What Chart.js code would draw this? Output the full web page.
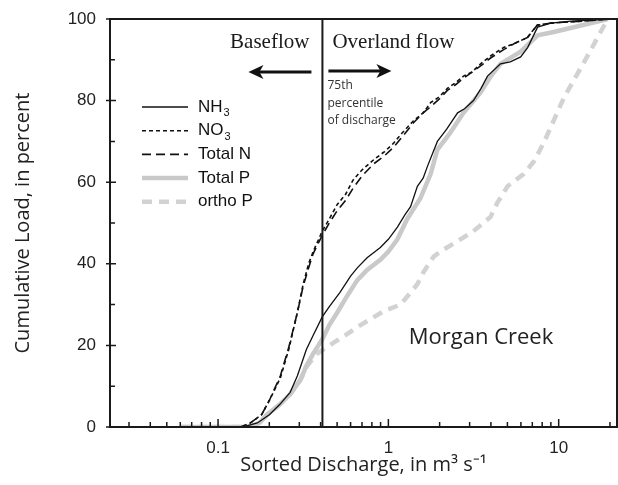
<!DOCTYPE html>
<html>
<head>
<meta charset="utf-8">
<script src="https://cdn.jsdelivr.net/npm/chart.js@4.4.0/dist/chart.umd.min.js"></script>
<style>
  body { margin: 0; background: #fff; }
  #wrap { width: 618px; height: 485px; }
</style>
</head>
<body>
<div id="wrap"><canvas id="loadChart"></canvas></div>
<script>
// Tên các chuỗi số liệu (chữ số cuối của NH3 / NO3 vẽ dạng chỉ số dưới)
const seriesNames = ['NH3', 'NO3', 'Total N', 'Total P', 'ortho P'];

// Mỗi điểm: [lưu lượng đã sắp xếp (m3/s), tải lượng tích lũy (%)]
const nh3 = [[0.14,0],[0.17,1],[0.2,3],[0.23,5.5],[0.265,8.5],[0.292,12.5],[0.33,19],[0.362,22.5],
  [0.409,27],[0.45,29.5],[0.52,33],[0.6,37],[0.657,39],[0.75,41.5],[0.897,44],[1.0,46],
  [1.13,49],[1.25,52],[1.35,54],[1.48,59],[1.6,61],[1.7,64],[1.94,70],[2.2,73],[2.55,77],[2.8,78],
  [3.16,80],[3.5,83],[3.82,86],[4.55,89],[5.2,89.5],[5.98,90.7],[6.57,93],[7.52,98],[9,99],[11.8,99.5],[20,100]];
const no3 = [[0.06,0],[0.135,0],[0.155,1],[0.18,3],[0.2,6.5],[0.232,12],[0.26,19],[0.292,28],[0.316,35],
  [0.34,40],[0.362,43],[0.409,48],[0.45,51],[0.5,54.5],[0.56,57],[0.62,60.5],[0.7,63],[0.82,65.5],
  [0.95,67.5],[1.07,69.5],[1.2,72],[1.4,75],[1.6,77],[1.77,79.5],[2.0,81],[2.22,83],[2.5,84.5],[2.76,86],
  [3.1,87],[3.48,89],[4.0,91],[4.75,93],[5.5,94],[6.57,95.5],[7.0,97],[7.5,98.5],[9,99],[11.8,99.3],[15,99.6],[20,100]];
const totalN = [[0.06,0],[0.135,0],[0.155,1],[0.18,3],[0.2,6.5],[0.232,12.5],[0.26,19.5],[0.292,28],[0.316,34.5],
  [0.34,39],[0.362,42.5],[0.409,47],[0.45,50],[0.5,53],[0.56,55.5],[0.62,58.5],[0.7,61.5],[0.82,64.5],
  [0.95,66.5],[1.07,68.5],[1.2,71],[1.4,74.5],[1.6,77],[1.77,78.5],[2.0,80.5],[2.22,82.5],[2.5,84],[2.76,85.5],
  [3.1,87],[3.48,88.5],[4.0,90.5],[4.75,92.5],[5.5,94],[6.57,95.5],[7.0,97],[7.5,98.5],[9,99],[11.8,99.3],[15,99.6],[20,100]];
const totalP = [[0.06,0],[0.154,0],[0.175,1],[0.194,3],[0.23,5.5],[0.265,8],[0.304,11.5],[0.33,15],[0.362,18],
  [0.409,21.5],[0.45,25],[0.5,28],[0.57,32],[0.657,36],[0.75,38.5],[0.897,41],[1.0,43],[1.13,46],[1.29,51],
  [1.54,56],[1.77,62],[1.94,68],[2.3,72],[2.76,77],[3.48,82],[4.0,86],[4.55,89],[5.98,92],[7.52,96],[9.36,96.8],[19.5,100]];
const orthoP = [[0.06,0],[0.154,0],[0.175,1],[0.194,3],[0.23,5.5],[0.265,8],[0.304,11.5],[0.334,15],[0.382,18],
  [0.475,20.6],[0.56,22.5],[0.657,24.5],[0.753,26],[0.95,28.5],[1.18,30],[1.48,35],[1.61,38],[1.84,41.7],
  [2.02,43],[2.65,46],[3.16,48],[3.98,51.5],[4.37,55],[5.01,59],[6.22,62],[7.13,65],[8.16,69.6],[10.7,80.6],[14.8,91],[19.4,100]];

// Trục và các mốc
const xTickValues = [0.1, 1, 10];
const xMinorValues = [0.03,0.04,0.05,0.06,0.07,0.08,0.09,0.2,0.3,0.4,0.5,0.6,0.7,0.8,0.9,2,3,4,5,6,7,8,9,20];
const yTickValues = [0, 20, 40, 60, 80, 100];
const yMinorValues = [10, 30, 50, 70, 90];
const q75 = 0.41; // phân vị 75 của lưu lượng

const toXY = arr => arr.map(p => ({ x: p[0], y: p[1] }));

const styles = [
  { color: '#111', width: 1.3, dash: [] },
  { color: '#111', width: 1.6, dash: [4, 3] },
  { color: '#111', width: 1.6, dash: [9, 5] },
  { color: '#c9c9c9', width: 4.5, dash: [] },
  { color: '#d2d2d2', width: 4.5, dash: [10, 7] }
];
const allSeries = [nh3, no3, totalN, totalP, orthoP];

const datasets = allSeries.map((s, i) => ({
  label: seriesNames[i],
  data: toXY(s),
  borderColor: styles[i].color,
  borderWidth: styles[i].width,
  borderDash: styles[i].dash,
  pointRadius: 0,
  tension: 0,
  fill: false
}));

// Vẽ chữ có chỉ số dưới (NH3 -> NH₃)
function drawLabel(ctx, text, x, y, size) {
  const m = text.match(/^([A-Z]+)(\d)$/);
  if (!m) { ctx.fillText(text, x, y); return; }
  ctx.fillText(m[1], x, y);
  const w = ctx.measureText(m[1]).width;
  const old = ctx.font;
  ctx.font = Math.round(size * 0.65) + 'px "Liberation Sans"';
  ctx.fillText(m[2], x + w + 1, y + size * 0.35);
  ctx.font = old;
}

function arrow(ctx, x1, x2, y) {
  const dir = Math.sign(x2 - x1);
  ctx.beginPath();
  ctx.moveTo(x1, y);
  ctx.lineTo(x2 - dir * 10, y);
  ctx.lineWidth = 3;
  ctx.stroke();
  ctx.beginPath();
  ctx.moveTo(x2, y);
  ctx.lineTo(x2 - dir * 15, y - 7);
  ctx.lineTo(x2 - dir * 11, y);
  ctx.lineTo(x2 - dir * 15, y + 7);
  ctx.closePath();
  ctx.fill();
}

const decorPlugin = {
  id: 'decor',
  afterDatasetsDraw(chart) {
    const ctx = chart.ctx;
    const a = chart.chartArea;
    const xs = chart.scales.x, ys = chart.scales.y;
    ctx.save();
    ctx.strokeStyle = '#1a1a1a';
    ctx.fillStyle = '#1a1a1a';

    // Khung
    ctx.lineWidth = 2;
    ctx.strokeRect(a.left, a.top, a.right - a.left, a.bottom - a.top);

    // Vạch chia
    ctx.lineWidth = 1.5;
    ctx.beginPath();
    xTickValues.forEach(v => { const px = xs.getPixelForValue(v); ctx.moveTo(px, a.bottom); ctx.lineTo(px, a.bottom - 8); });
    xMinorValues.forEach(v => { const px = xs.getPixelForValue(v); ctx.moveTo(px, a.bottom); ctx.lineTo(px, a.bottom - 5); });
    yTickValues.forEach(v => { const py = ys.getPixelForValue(v); ctx.moveTo(a.left - 4, py); ctx.lineTo(a.left + 6, py); });
    yMinorValues.forEach(v => { const py = ys.getPixelForValue(v); ctx.moveTo(a.left, py); ctx.lineTo(a.left + 5, py); });
    ctx.stroke();

    // Đường phân vị 75
    const lx = xs.getPixelForValue(q75);
    ctx.lineWidth = 2;
    ctx.beginPath();
    ctx.moveTo(lx, a.top);
    ctx.lineTo(lx, a.bottom);
    ctx.stroke();

    // Chú thích dòng chảy
    ctx.font = '21px "Liberation Serif"';
    ctx.textBaseline = 'alphabetic';
    ctx.textAlign = 'right';
    ctx.fillText('Baseflow', lx - 13, a.top + 29);
    ctx.textAlign = 'left';
    ctx.fillText('Overland flow', lx + 10, a.top + 29);
    ctx.fillStyle = '#111';
    ctx.strokeStyle = '#111';
    arrow(ctx, lx - 11, lx - 74, a.top + 53);
    arrow(ctx, lx + 6, lx + 69, a.top + 52);

    ctx.fillStyle = '#333';
    ctx.font = '12px "Open Sans"';
    ctx.textBaseline = 'middle';
    ['75th', 'percentile', 'of discharge'].forEach((t, i) => ctx.fillText(t, lx + 5, a.top + 67 + i * 17.5));

    // Tên trạm
    ctx.fillStyle = '#222';
    ctx.font = '22px "Open Sans"';
    ctx.textAlign = 'center';
    ctx.fillText('Morgan Creek', xs.getPixelForValue(3.5), ys.getPixelForValue(22));

    // Chú giải
    chart.data.datasets.forEach((ds, i) => {
      const y = a.top + 88 + i * 23.7;
      ctx.beginPath();
      ctx.strokeStyle = ds.borderColor;
      ctx.lineWidth = ds.borderWidth;
      ctx.setLineDash(ds.borderDash);
      ctx.moveTo(a.left + 32, y);
      ctx.lineTo(a.left + 78, y);
      ctx.stroke();
      ctx.setLineDash([]);
      ctx.fillStyle = '#111';
      ctx.font = '17px "Liberation Sans"';
      ctx.textAlign = 'left';
      ctx.textBaseline = 'middle';
      drawLabel(ctx, ds.label, a.left + 88, y, 17);
    });
    ctx.restore();
  }
};

const ctx = document.getElementById('loadChart').getContext('2d');
new Chart(ctx, {
  type: 'line',
  data: { datasets: datasets },
  options: {
    responsive: true,
    maintainAspectRatio: false,
    animation: false,
    layout: { padding: { top: 19, right: 1, left: 0, bottom: 0 } },
    plugins: { legend: { display: false }, tooltip: { enabled: false } },
    scales: {
      x: {
        type: 'logarithmic',
        min: 0.0232,
        max: 22,
        grid: { display: false },
        border: { display: false },
        afterBuildTicks: s => { s.ticks = xTickValues.map(v => ({ value: v })); },
        afterFit: s => { s.height = 58; },
        ticks: {
          callback: v => String(v),
          autoSkip: false,
          maxRotation: 0,
          padding: 3,
          color: '#222',
          font: { family: 'Liberation Sans', size: 17 }
        },
        title: {
          display: true,
          text: 'Sorted Discharge, in m\u00b3 s\u207b\u00b9',
          color: '#222',
          font: { family: 'Open Sans', size: 20 },
          padding: { top: 0, bottom: 8 }
        }
      },
      y: {
        min: 0,
        max: 100,
        grid: { display: false },
        border: { display: false },
        afterFit: s => { s.width = 110; },
        ticks: {
          stepSize: 20,
          padding: 6,
          color: '#222',
          font: { family: 'Liberation Sans', size: 17 }
        },
        title: {
          display: true,
          text: 'Cumulative Load, in percent',
          color: '#222',
          font: { family: 'Open Sans', size: 20 },
          padding: { top: 11, bottom: 0 }
        }
      }
    }
  },
  plugins: [decorPlugin]
});
</script>
</body>
</html>
